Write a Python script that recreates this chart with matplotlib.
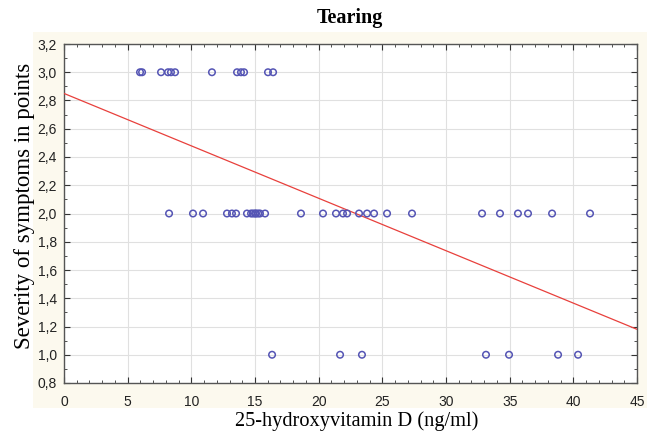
import matplotlib
matplotlib.use("Agg")
import matplotlib.pyplot as plt
from matplotlib.patches import Rectangle
from matplotlib.ticker import MultipleLocator, FuncFormatter

# Data
vitd_sev3 = [5.97, 6.13, 7.62, 8.17, 8.40, 8.72, 11.62, 13.59, 13.90, 14.14, 16.02, 16.42]
vitd_sev2 = [8.25, 10.13, 10.92, 12.80, 13.19, 13.51, 14.37, 14.69, 14.84, 15.00, 15.08,
             15.24, 15.39, 15.79, 18.61, 20.34, 21.36, 21.91, 22.23, 23.17, 23.80, 24.35,
             25.37, 27.33, 32.83, 34.24, 35.65, 36.44, 38.33, 41.31]
vitd_sev1 = [16.34, 21.68, 23.40, 33.14, 34.95, 38.80, 40.37]
fit_x = [0, 45]
fit_y = [2.85, 1.18]

x_vals = vitd_sev3 + vitd_sev2 + vitd_sev1
y_vals = [3.0] * len(vitd_sev3) + [2.0] * len(vitd_sev2) + [1.0] * len(vitd_sev1)

fig = plt.figure(figsize=(6.54, 4.37), dpi=100)
fig.patch.set_facecolor("white")
bg = Rectangle((33 / 654, 1 - 408 / 437), 614 / 654, 376 / 437,
               transform=fig.transFigure, facecolor="#fcf9ee",
               edgecolor="none", zorder=-10)
fig.add_artist(bg)

ax = fig.add_axes([64 / 654, 1 - 383 / 437, 573 / 654, 339 / 437])
ax.set_zorder(1)
ax.set_facecolor("white")
ax.set_xlim(0, 45)
ax.set_ylim(0.8, 3.2)

ax.plot(fit_x, fit_y, color="#e8403c", lw=0.9, zorder=3)
ax.scatter(x_vals, y_vals, s=22, facecolors="none", edgecolors="#5454b4",
           linewidths=1.1, zorder=4)

ax.xaxis.set_major_locator(MultipleLocator(5))
ax.xaxis.set_minor_locator(MultipleLocator(1))
ax.yaxis.set_major_locator(MultipleLocator(0.2))
ax.yaxis.set_minor_locator(MultipleLocator(0.1))
ax.yaxis.set_major_formatter(FuncFormatter(lambda v, p: f"{v:.1f}".replace(".", ",")))
ax.xaxis.set_major_formatter(FuncFormatter(lambda v, p: f"{v:.0f}"))

ax.grid(True, which="major", color="#e0e0e0", lw=0.8)
ax.set_axisbelow(True)
ax.tick_params(which="both", direction="in", top=True, right=True, color="#333333")
ax.tick_params(which="major", length=4, width=0.8, labelsize=10, labelcolor="#222222")
ax.tick_params(which="minor", length=2.5, width=0.6)
ax.tick_params(axis="x", which="major", pad=9)
ax.tick_params(axis="y", which="major", pad=5)
for lab in ax.get_xticklabels() + ax.get_yticklabels():
    lab.set_family("Liberation Sans")
for sp in ax.spines.values():
    sp.set_color("#555555")
    sp.set_linewidth(1.0)

fig.text(0.535, 1 - 18 / 437, "Tearing", ha="center", va="center",
         family="Liberation Serif", fontweight="bold", fontsize=14.5)
fig.text(357 / 654, 1 - 421 / 437, "25-hydroxyvitamin D (ng/ml)", ha="center",
         va="center", family="Liberation Serif", fontsize=14.7)
fig.text(25 / 654, 1 - 206 / 437, "Severity of symptoms in points", ha="center",
         va="center", rotation=90, family="Liberation Serif", fontsize=16.5)

fig.savefig("out.png", dpi=100)
